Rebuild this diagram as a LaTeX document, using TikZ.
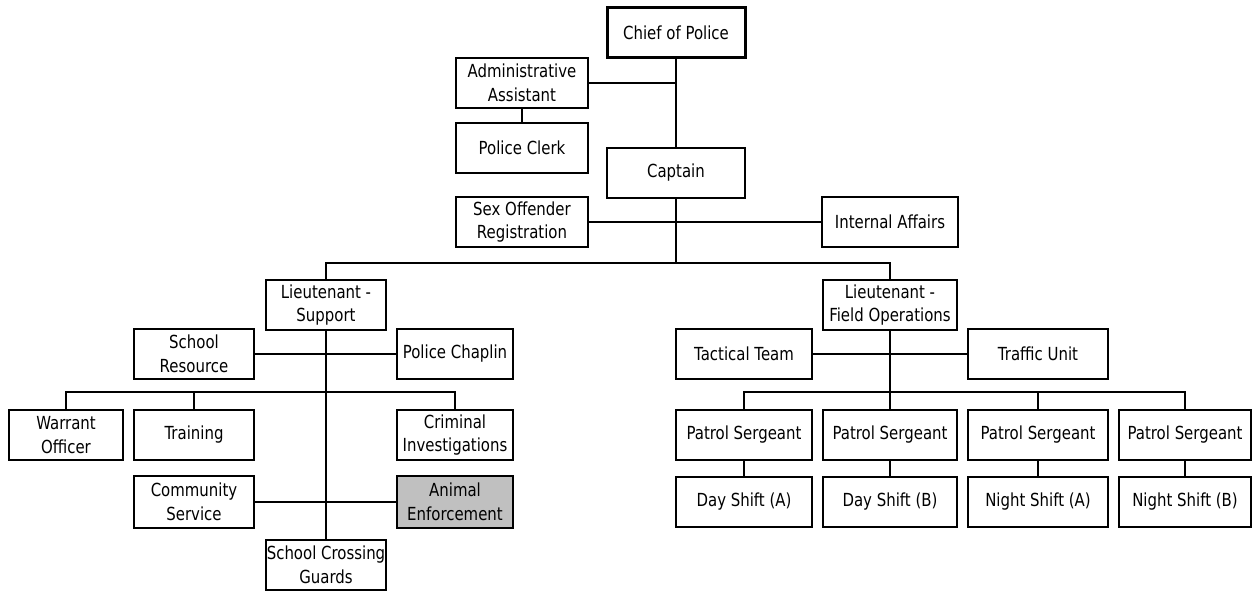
\documentclass[tikz,border=0pt]{standalone}
\usepackage{fontspec}
\setmainfont{DejaVu Sans}[FakeStretch=0.83]
\begin{document}
\begin{tikzpicture}[x=1pt,y=-1pt,
  box/.style={draw=black,line width=2.4pt,fill=white,align=center,inner sep=0pt,
    font=\fontsize{18}{23.5}\selectfont,minimum height=50pt},
  w114/.style={minimum width=114pt},
  w120/.style={minimum width=120pt},
  w116/.style={minimum width=116pt},
  w132/.style={minimum width=132pt},
  w136/.style={minimum width=136pt},
  w138/.style={minimum width=138pt},
  w140/.style={minimum width=140pt},
  conn/.style={line width=2.4pt}]
\useasboundingbox (0,0) rectangle (1252,591);
% top
\node[box,w138,line width=3pt] (chief) at (676,33) {Chief of Police};
\node[box,w132] (admin) at (522,83) {Administrative\\Assistant};
\node[box,w132] (clerk) at (522,148) {Police Clerk};
\node[box,w138] (captain) at (676,173) {Captain};
\node[box,w132] (sexoff) at (522,222) {Sex Offender\\Registration};
\node[box,w136] (internal) at (890,222) {Internal Affairs};
% lieutenants
\node[box,w120] (ltsup) at (326,305) {Lieutenant -\\Support};
\node[box,minimum width=134pt] (ltfo) at (890,305) {Lieutenant -\\Field Operations};
% support side
\node[box,w120] (schoolres) at (194,354) {School\\Resource};
\node[box,w116] (chaplin) at (455,354) {Police Chaplin};
\node[box,w114] (warrant) at (66,435) {Warrant\\Officer};
\node[box,w120] (training) at (194,435) {Training};
\node[box,w116] (criminal) at (455,435) {Criminal\\Investigations};
\node[box,w120,minimum height=52pt] (community) at (194,502) {Community\\Service};
\node[box,w116,minimum height=52pt,fill={rgb,255:red,192;green,192;blue,192}] (animal) at (455,502) {Animal\\Enforcement};
\node[box,w120] (crossing) at (326,565) {School Crossing\\Guards};
% field side
\node[box,w136] (tactical) at (744,354) {Tactical Team};
\node[box,w140] (traffic) at (1038,354) {Traffic Unit};
\node[box,w136] (psa) at (744,435) {Patrol Sergeant};
\node[box,minimum width=134pt] (psb) at (890,435) {Patrol Sergeant};
\node[box,w140] (psc) at (1038,435) {Patrol Sergeant};
\node[box,w132] (psd) at (1185,435) {Patrol Sergeant};
\node[box,w136] (sha) at (744,502) {Day Shift (A)};
\node[box,minimum width=134pt] (shb) at (890,502) {Day Shift (B)};
\node[box,w140] (shc) at (1038,502) {Night Shift (A)};
\node[box,w132] (shd) at (1185,502) {Night Shift (B)};
% coordinates of buses
\coordinate (b1) at (676,263);
\coordinate (b2) at (326,392);
\coordinate (b3) at (890,392);
% connectors
\draw[conn] (chief.south) -- (captain.north);
\draw[conn] (admin.east) -- (admin.east -| chief.south);
\draw[conn] (admin.south) -- (clerk.north);
\draw[conn] (captain.south) -- (b1);
\draw[conn] (sexoff.east) -- (internal.west);
\draw[conn] (ltsup.north) |- (b1) -| (ltfo.north);
\draw[conn] (ltsup.south) -- (crossing.north);
\draw[conn] (schoolres.east) -- (chaplin.west);
\draw[conn] (warrant.north) |- (b2) -| (criminal.north);
\draw[conn] (training.north) -- (training.north |- b2);
\draw[conn] (community.east) -- (animal.west);
\draw[conn] (ltfo.south) -- (psb.north);
\draw[conn] (tactical.east) -- (traffic.west);
\draw[conn] (psa.north) |- (b3) -| (psd.north);
\draw[conn] (psc.north) -- (psc.north |- b3);
\draw[conn] (psa.south) -- (sha.north);
\draw[conn] (psb.south) -- (shb.north);
\draw[conn] (psc.south) -- (shc.north);
\draw[conn] (psd.south) -- (shd.north);
\end{tikzpicture}
\end{document}
